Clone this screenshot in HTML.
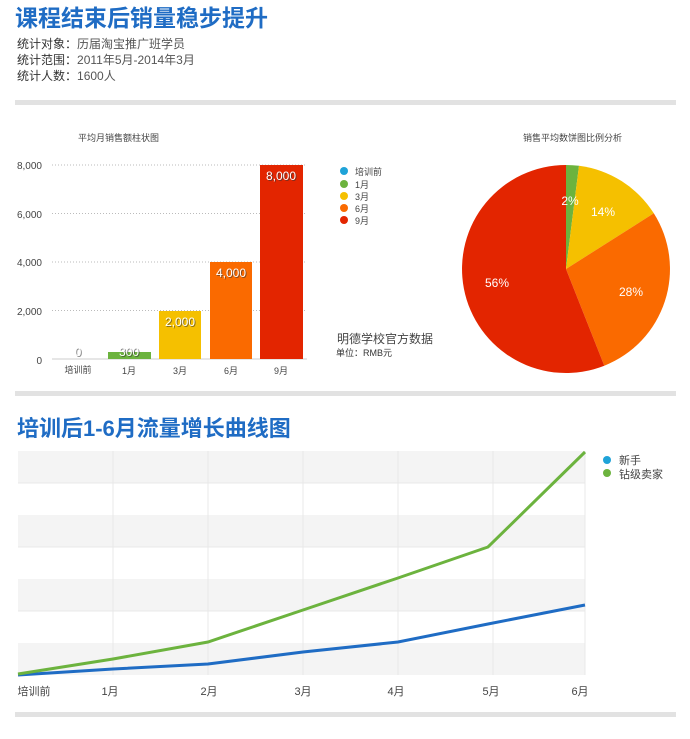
<!DOCTYPE html>
<html><head><meta charset="utf-8"><style>
body{margin:0;width:690px;height:734px;background:#fff;font-family:"Liberation Sans","Noto Sans CJK SC",sans-serif;overflow:hidden}
</style></head><body>
<svg width="690" height="734" xmlns="http://www.w3.org/2000/svg" font-family="Liberation Sans, Noto Sans CJK SC, sans-serif">
<text x="15" y="26" font-size="23" font-weight="600" fill="#1f6cc4">课程结束后销量稳步提升</text>
<text x="17" y="48" font-size="12" fill="#333">统计对象：<tspan fill="#555">历届淘宝推广班学员</tspan></text>
<text x="17" y="64" font-size="12" fill="#333">统计范围：<tspan fill="#555">2011年5月-2014年3月</tspan></text>
<text x="17" y="80" font-size="12" fill="#333">统计人数：<tspan fill="#555">1600人</tspan></text>
<rect x="15" y="100" width="661" height="5" fill="#e2e2e2"/>
<text x="78" y="141" font-size="9" fill="#444">平均月销售额柱状图</text>
<g stroke="#bbb" stroke-dasharray="1,2" stroke-width="1">
<line x1="52" y1="165" x2="305" y2="165"/><line x1="52" y1="213.5" x2="305" y2="213.5"/>
<line x1="52" y1="262" x2="305" y2="262"/><line x1="52" y1="310.5" x2="305" y2="310.5"/></g>
<line x1="52" y1="359" x2="307" y2="359" stroke="#ccc"/>
<g font-size="10" fill="#444" text-anchor="end">
<text x="42" y="169">8,000</text><text x="42" y="218">6,000</text><text x="42" y="266">4,000</text><text x="42" y="315">2,000</text><text x="42" y="364">0</text></g>
<rect x="108" y="352" width="43" height="7" fill="#6cb33e"/>
<rect x="159" y="311" width="42" height="48" fill="#f5c000"/>
<rect x="210" y="262" width="42" height="97" fill="#fa6a00"/>
<rect x="260" y="165" width="43" height="194" fill="#e32500"/>
<g font-size="12" fill="#333" fill-opacity="0.6" text-anchor="middle">
<text x="79" y="357">0</text><text x="130" y="357">300</text><text x="181" y="327">2,000</text><text x="232" y="278">4,000</text><text x="282" y="181">8,000</text></g>
<g font-size="12" fill="#fff" text-anchor="middle">
<text x="78" y="356">0</text><text x="129" y="356">300</text><text x="180" y="326">2,000</text><text x="231" y="277">4,000</text><text x="281" y="180">8,000</text></g>
<g font-size="9" fill="#444" text-anchor="middle">
<text x="78" y="373">培训前</text><text x="129" y="374">1月</text><text x="180" y="374">3月</text><text x="231" y="374">6月</text><text x="281" y="374">9月</text></g>
<g font-size="9" fill="#444">
<circle cx="344" cy="171" r="4" fill="#1fa3d8"/><text x="355" y="175">培训前</text>
<circle cx="344" cy="184" r="4" fill="#6cb33e"/><text x="355" y="188">1月</text>
<circle cx="344" cy="196" r="4" fill="#f5c000"/><text x="355" y="200">3月</text>
<circle cx="344" cy="208" r="4" fill="#fa6a00"/><text x="355" y="212">6月</text>
<circle cx="344" cy="220" r="4" fill="#e32500"/><text x="355" y="224">9月</text></g>
<text x="337" y="343" font-size="12" fill="#444">明德学校官方数据</text>
<text x="336" y="356" font-size="9" fill="#333">单位：RMB元</text>
<text x="523" y="141" font-size="9" fill="#444">销售平均数饼图比例分析</text>
<path d="M566,269 L566,165 A104,104 0 0 1 579,165.8Z" fill="#6cb33e"/>
<path d="M566,269 L579,165.8 A104,104 0 0 1 653.8,213.3Z" fill="#f5c000"/>
<path d="M566,269 L653.8,213.3 A104,104 0 0 1 604.3,365.7Z" fill="#fa6a00"/>
<path d="M566,269 L604.3,365.7 A104,104 0 1 1 566,165Z" fill="#e32500"/>
<g font-size="12" fill="#fff" text-anchor="middle">
<text x="570" y="205">2%</text><text x="603" y="216">14%</text><text x="631" y="296">28%</text><text x="497" y="287">56%</text></g>
<rect x="15" y="391" width="661" height="5" fill="#e2e2e2"/>
<text x="17" y="436" font-size="22" font-weight="600" fill="#1f6cc4">培训后1-6月流量增长曲线图</text>
<g fill="#f4f4f4"><rect x="18" y="451" width="567" height="32"/><rect x="18" y="515" width="567" height="32"/><rect x="18" y="579" width="567" height="32"/><rect x="18" y="643" width="567" height="32"/></g>
<g stroke="#e8e8e8"><line x1="18" y1="483" x2="585" y2="483"/><line x1="18" y1="547" x2="585" y2="547"/><line x1="18" y1="611" x2="585" y2="611"/>
<line x1="113" y1="451" x2="113" y2="675"/><line x1="208" y1="451" x2="208" y2="675"/><line x1="303" y1="451" x2="303" y2="675"/><line x1="398" y1="451" x2="398" y2="675"/><line x1="493" y1="451" x2="493" y2="675"/><line x1="585" y1="451" x2="585" y2="675"/></g>
<polyline points="18,675 113,669 208,664 303,652 398,642 488,624 585,605" fill="none" stroke="#1f6cc4" stroke-width="3"/>
<polyline points="18,674 113,659 208,642 303,610 398,578 488,547 585,452" fill="none" stroke="#6cb33e" stroke-width="3"/>
<g font-size="11" fill="#444" text-anchor="middle">
<text x="34" y="695">培训前</text><text x="110" y="695">1月</text><text x="209" y="695">2月</text><text x="303" y="695">3月</text><text x="396" y="695">4月</text><text x="491" y="695">5月</text><text x="580" y="695">6月</text></g>
<g font-size="11" fill="#444">
<circle cx="607" cy="460" r="4" fill="#1fa3d8"/><text x="619" y="464">新手</text>
<circle cx="607" cy="473" r="4" fill="#6cb33e"/><text x="619" y="478">钻级卖家</text></g>
<rect x="15" y="712" width="661" height="5" fill="#e2e2e2"/>
</svg>
</body></html>
